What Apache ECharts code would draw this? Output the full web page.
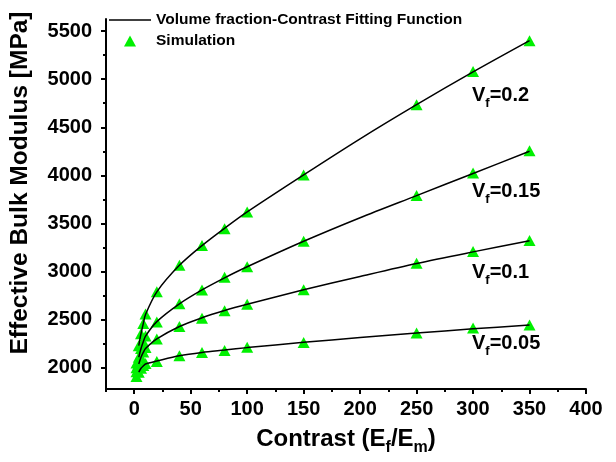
<!DOCTYPE html>
<html>
<head>
<meta charset="utf-8">
<script src="https://cdn.jsdelivr.net/npm/echarts@6/dist/echarts.min.js"></script>
<style>html,body{margin:0;padding:0;background:#fff;}#c{width:616px;height:462px;}</style>
</head>
<body>
<div id="c"></div>
<script>
// ---- data ----
const contrast = [2, 4, 6, 8, 10, 20, 40, 60, 80, 100, 150, 250, 300, 350];
const simVf020 = [2050, 2230, 2355, 2460, 2560, 2790, 3065, 3270, 3445, 3620, 4005, 4735, 5080, 5400];
const simVf015 = [2000, 2110, 2200, 2270, 2330, 2475, 2665, 2810, 2940, 3050, 3315, 3790, 4025, 4255];
const simVf010 = [1960, 2040, 2110, 2165, 2210, 2300, 2430, 2515, 2592, 2662, 2811, 3088, 3209, 3323];
const simVf005 = [1910, 1955, 1995, 2025, 2045, 2065, 2125, 2160, 2180, 2215, 2263, 2361, 2413, 2444];

const fitContrast = [4, 6, 8, 10, 20, 40, 60, 80, 100, 150, 200, 250, 300, 350];
const fitVf020 = [2230, 2355, 2460, 2555, 2790, 3065, 3270, 3450, 3620, 4005, 4380, 4735, 5075, 5400];
const fitVf015 = [2110, 2200, 2270, 2330, 2480, 2665, 2810, 2935, 3050, 3315, 3560, 3790, 4020, 4250];
const fitVf010 = [2040, 2110, 2160, 2200, 2300, 2430, 2520, 2595, 2660, 2811, 2950, 3085, 3205, 3320];
const fitVf005 = [1955, 1995, 2020, 2040, 2070, 2125, 2160, 2185, 2210, 2265, 2315, 2362, 2405, 2445];

const xMajorTicks = [0, 50, 100, 150, 200, 250, 300, 350, 400];
const xMinorTicks = [-25, 25, 75, 125, 175, 225, 275, 325, 375];
const yMajorTicks = [2000, 2500, 3000, 3500, 4000, 4500, 5000, 5500];
const yMinorTicks = [2250, 2750, 3250, 3750, 4250, 4750, 5250];

const vfLabels = ['0.2', '0.15', '0.1', '0.05'];
const fitName = 'Volume fraction-Contrast Fitting Function';
const simName = 'Simulation';

// ---- chart ----
const FONT = '"Liberation Sans", Arial, sans-serif';
const chart = echarts.init(document.getElementById('c'), null, {renderer: 'canvas'});
const zip = (xs, ys) => xs.map((x, i) => [x, ys[i]]);
const sims = [simVf020, simVf015, simVf010, simVf005];
const fits = [fitVf020, fitVf015, fitVf010, fitVf005];

const series = [];
fits.forEach((f) => {
  series.push({
    name: fitName, type: 'line', xAxisIndex: 0, yAxisIndex: 0,
    data: zip(fitContrast, f), smooth: 0.3,
    symbol: 'none', showSymbol: false, z: 5,
    lineStyle: {color: '#000', width: 1.5}, itemStyle: {color: '#000'},
    animation: false
  });
});
sims.forEach((s) => {
  series.push({
    name: simName, type: 'scatter', xAxisIndex: 0, yAxisIndex: 0,
    data: zip(contrast, s), symbol: 'triangle', symbolSize: [12, 11], z: 3,
    itemStyle: {color: '#00f000', opacity: 1}, animation: false
  });
});

const txt = {fontFamily: FONT, fontWeight: 'bold', color: '#000'};
const plain = (v) => String(v);

const vfTops = [85, 181, 262, 333];
const graphics = vfLabels.map((v, i) => ({
  type: 'text', left: 472, top: vfTops[i], z: 10,
  style: {
    text: '{v|V}{s|f}{v|=' + v + '}',
    rich: {
      v: {fontFamily: FONT, fontWeight: 'bold', fontSize: 20, lineHeight: 30, verticalAlign: 'middle', fill: '#000'},
      s: {fontFamily: FONT, fontWeight: 'bold', fontSize: 13, lineHeight: 13, verticalAlign: 'bottom', fill: '#000'}
    }
  }
}));

chart.setOption({
  animation: false,
  backgroundColor: '#fff',
  grid: {left: 106, right: 30, top: 19, bottom: 73, containLabel: false, outerBoundsMode: 'none'},
  legend: {
    data: [
      {name: fitName, icon: 'path://M0,0 L42,0 L42,1.6 L0,1.6 Z', itemStyle: {color: '#000'}},
      {name: simName, icon: 'path://M6,0 L12,11 L0,11 Z'}
    ],
    orient: 'vertical', left: 109, top: 12, padding: 0,
    itemWidth: 42, itemHeight: 11, itemGap: 5, symbolKeepAspect: true,
    textStyle: Object.assign({fontSize: 15.5}, txt)
  },
  xAxis: [
    {
      type: 'value', min: -25, max: 400, position: 'bottom',
      axisLine: {show: true, onZero: false, lineStyle: {color: '#000', width: 2}},
      splitLine: {show: false},
      axisTick: {show: true, inside: false, length: 5, customValues: xMajorTicks, lineStyle: {color: '#000', width: 2}},
      axisLabel: Object.assign({show: true, fontSize: 20, margin: 10, customValues: xMajorTicks, formatter: plain}, txt),
      name: '{a|Contrast (E}{b|f}{a|/E}{b|m}{a|)}', nameLocation: 'middle', nameGap: 33,
      nameTextStyle: {rich: {
        a: {fontFamily: FONT, fontWeight: 'bold', fontSize: 24, lineHeight: 34, verticalAlign: 'middle', color: '#000'},
        b: {fontFamily: FONT, fontWeight: 'bold', fontSize: 16, lineHeight: 16, verticalAlign: 'bottom', color: '#000'}
      }}
    },
    {
      type: 'value', min: -25, max: 400, position: 'bottom', offset: 0,
      axisLine: {show: false, onZero: false}, splitLine: {show: false}, axisLabel: {show: false},
      axisTick: {show: true, inside: false, length: 3, customValues: xMinorTicks, lineStyle: {color: '#000', width: 2}}
    }
  ],
  yAxis: [
    {
      type: 'value', min: 1780, max: 5625, position: 'left',
      axisLine: {show: true, onZero: false, lineStyle: {color: '#000', width: 2}},
      splitLine: {show: false},
      axisTick: {show: true, inside: false, length: 5, customValues: yMajorTicks, lineStyle: {color: '#000', width: 2}},
      axisLabel: Object.assign({show: true, fontSize: 20, margin: 14, customValues: yMajorTicks, formatter: plain}, txt),
      name: 'Effective Bulk Modulus [MPa]', nameLocation: 'middle', nameGap: 73, nameRotate: 90,
      nameTextStyle: Object.assign({fontSize: 24.5, padding: [0, 0, 0, 42]}, txt)
    },
    {
      type: 'value', min: 1780, max: 5625, position: 'left', offset: 0,
      axisLine: {show: false, onZero: false}, splitLine: {show: false}, axisLabel: {show: false},
      axisTick: {show: true, inside: false, length: 3, customValues: yMinorTicks, lineStyle: {color: '#000', width: 2}}
    }
  ],
  series: series,
  graphic: graphics
});
</script>
</body>
</html>
